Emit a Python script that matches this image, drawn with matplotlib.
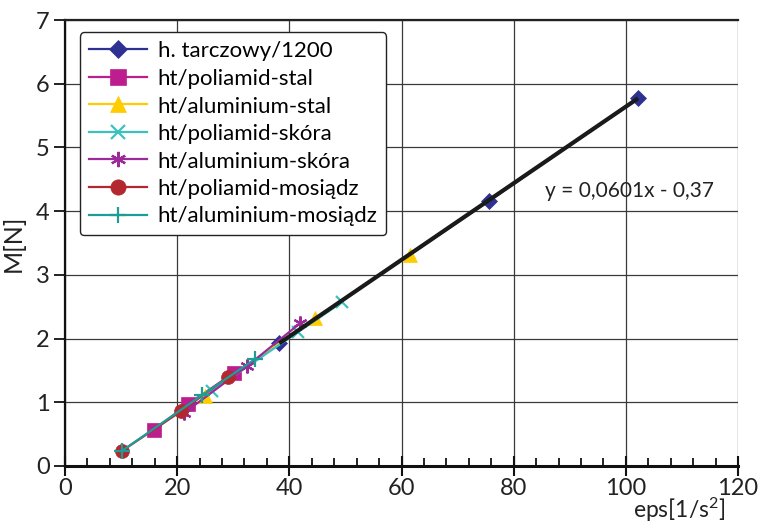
import matplotlib
matplotlib.use("Agg")
import matplotlib.pyplot as plt
from matplotlib.ticker import MultipleLocator

plt.rcParams['font.family'] = ['Lato', 'DejaVu Sans']
plt.rcParams['mathtext.fontset'] = 'custom'
plt.rcParams['mathtext.rm'] = 'Lato'
plt.rcParams['mathtext.it'] = 'Lato'

# ---- data ----
series_names = ["h. tarczowy/1200", "ht/poliamid-stal", "ht/aluminium-stal",
                "ht/poliamid-skóra", "ht/aluminium-skóra", "ht/poliamid-mosiądz",
                "ht/aluminium-mosiądz"]
tarczowy_x = [38.2, 75.6, 102.2]
tarczowy_y = [1.93, 4.16, 5.78]
pol_stal_x = [15.9, 21.9, 30.1]
pol_stal_y = [0.57, 0.97, 1.46]
alu_stal_x = [25.0, 44.6, 61.5]
alu_stal_y = [1.10, 2.32, 3.31]
pol_skora_x = [26.2, 41.5, 49.4]
pol_skora_y = [1.18, 2.10, 2.57]
alu_skora_x = [21.2, 32.5, 41.9]
alu_skora_y = [0.83, 1.57, 2.24]
pol_mos_x = [10.2, 20.7, 29.1]
pol_mos_y = [0.24, 0.86, 1.40]
alu_mos_x = [10.2, 24.4, 33.9]
alu_mos_y = [0.24, 1.11, 1.68]
trend_slope = 0.0601
trend_icept = -0.37
trend_label = "y = 0,0601x - 0,37"
x_ticks = [0, 20, 40, 60, 80, 100, 120]
y_ticks = [0, 1, 2, 3, 4, 5, 6, 7]

colors = ["#2E3192", "#BC1F8D", "#FFCC00", "#3CC2BE", "#9A2B99", "#B2282E", "#1E9C96"]
markers = ["D", "s", "^", "x", (6, 2, 0), "o", "+"]
msizes = [8, 10, 10, 9, 10, 10, 11]

xs = [tarczowy_x, pol_stal_x, alu_stal_x, pol_skora_x, alu_skora_x, pol_mos_x, alu_mos_x]
ys = [tarczowy_y, pol_stal_y, alu_stal_y, pol_skora_y, alu_skora_y, pol_mos_y, alu_mos_y]

fig = plt.figure(figsize=(7.58, 5.24), dpi=100)
ax = fig.add_axes([0.0858, 0.1107, 0.8878, 0.8511])

for name, x, y, c, m, ms in zip(series_names, xs, ys, colors, markers, msizes):
    ax.plot(x, y, color=c, marker=m, markersize=ms, lw=1.6, label=name,
            markeredgewidth=1.6 if m in ("x", "+", (6, 2, 0)) else 0.5,
            markeredgecolor=c, zorder=3)

tx = [min(tarczowy_x), max(tarczowy_x)]
ty = [trend_slope * v + trend_icept for v in tx]
ax.plot(tx, ty, color="#1a1a1a", lw=3, zorder=4, solid_capstyle='butt')
ax.text(85.6, 4.31, trend_label, fontsize=15, va='center', ha='left', color='#222')

ax.set_xlim(0, 120)
ax.set_ylim(0, 7)
ax.set_xticks(x_ticks)
ax.set_yticks(y_ticks)
ax.xaxis.set_minor_locator(MultipleLocator(4))
ax.grid(True, which='major', color='#3a3a3a', lw=0.9)
ax.set_axisbelow(True)

ax.spines['right'].set_visible(False)
ax.spines['top'].set_linewidth(1.6)
ax.spines['top'].set_color('#222')
ax.spines['left'].set_linewidth(1.6)
ax.spines['bottom'].set_linewidth(2.2)
ax.spines['bottom'].set_color('#111')
ax.spines['left'].set_color('#111')

ax.tick_params(axis='x', which='major', direction='inout', length=14, width=1.5,
               labelsize=17, pad=2, colors='#111', labelcolor='#222')
ax.tick_params(axis='x', which='minor', direction='in', length=6, width=1.3, colors='#111')
ax.tick_params(axis='y', which='major', direction='out', length=8, width=1.3,
               labelsize=17, pad=3, colors='#111', labelcolor='#222')

ax.set_ylabel("M[N]", fontsize=18, color='#222', labelpad=8)
fig.text(725 / 758, 1 - 510 / 524, "eps[1/s$^{2}$]", fontsize=16.5, ha='right', va='center', color='#222')

leg = ax.legend(loc='upper left', bbox_to_anchor=(0.022, 0.973), borderaxespad=0,
                fontsize=16, frameon=True, fancybox=True, edgecolor='#222',
                facecolor='white', framealpha=1, handlelength=2.6, labelspacing=0.34,
                borderpad=0.4, handletextpad=0.5, markerscale=1.1)
leg.get_frame().set_linewidth(1.0)

fig.savefig("out.png", dpi=100)
